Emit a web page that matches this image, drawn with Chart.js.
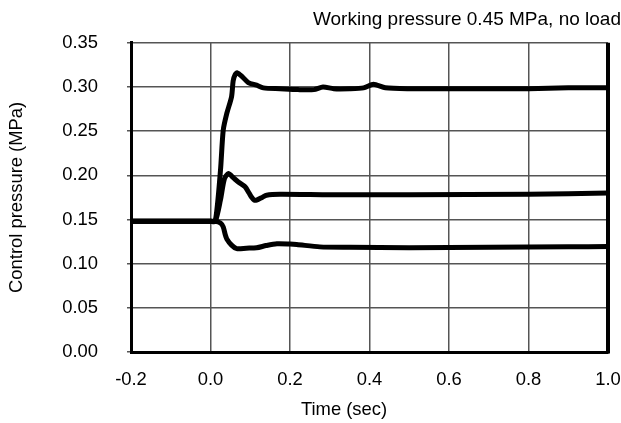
<!DOCTYPE html>
<html>
<head>
<meta charset="utf-8">
<script src="https://cdn.jsdelivr.net/npm/chart.js@4"></script>
<style>
  html, body { margin: 0; padding: 0; background: #fff; }
  #wrap { width: 621px; height: 423px; }
</style>
</head>
<body>
<div id="wrap"><canvas id="chart" width="621" height="423"></canvas></div>
<script>
// --- Chart data ---
const xTicks = [-0.2, 0.0, 0.2, 0.4, 0.6, 0.8, 1.0];
const yTicks = [0.00, 0.05, 0.10, 0.15, 0.20, 0.25, 0.30, 0.35];

const highTime = [-0.2, 0.0, 0.012, 0.025, 0.032, 0.041, 0.053, 0.057, 0.062, 0.0675, 0.079, 0.095, 0.116, 0.133, 0.175, 0.22, 0.26, 0.283, 0.31, 0.35, 0.385, 0.41, 0.44, 0.5, 0.6, 0.7, 0.8, 0.9, 1.0];
const highPressure = [0.148, 0.148, 0.148, 0.205, 0.251, 0.270, 0.289, 0.307, 0.314, 0.316, 0.312, 0.305, 0.302, 0.299, 0.298, 0.297, 0.297, 0.300, 0.298, 0.298, 0.299, 0.303, 0.299, 0.298, 0.298, 0.298, 0.298, 0.299, 0.299];

const midTime = [-0.2, 0.0, 0.012, 0.025, 0.035, 0.045, 0.058, 0.070, 0.087, 0.097, 0.103, 0.110, 0.116, 0.130, 0.141, 0.175, 0.3, 0.5, 0.8, 1.0];
const midPressure = [0.148, 0.148, 0.148, 0.172, 0.196, 0.202, 0.197, 0.1925, 0.187, 0.180, 0.1755, 0.172, 0.172, 0.175, 0.1775, 0.1785, 0.178, 0.178, 0.1785, 0.180];

const lowTime = [-0.2, 0.0, 0.012, 0.025, 0.032, 0.037, 0.041, 0.053, 0.066, 0.09, 0.116, 0.14, 0.167, 0.2, 0.217, 0.275, 0.35, 0.5, 0.7, 0.9, 1.0];
const lowPressure = [0.148, 0.148, 0.148, 0.146, 0.1416, 0.133, 0.128, 0.121, 0.117, 0.1175, 0.118, 0.1205, 0.1225, 0.1222, 0.1217, 0.119, 0.1185, 0.118, 0.1185, 0.119, 0.1195];

const toPoints = (xs, ys) => xs.map((x, i) => ({ x: x, y: ys[i] }));

const fontFamily = 'Arial, "Liberation Sans", sans-serif';
const fontSize = 18.4;

// right frame line + x axis title
const framePlugin = {
    id: 'frame',
    afterDraw(chart) {
        const { ctx, chartArea } = chart;
        ctx.save();
        ctx.strokeStyle = '#000';
        ctx.lineWidth = 4;
        ctx.beginPath();
        ctx.moveTo(chartArea.right, chartArea.top);
        ctx.lineTo(chartArea.right, chartArea.bottom + 1.5);
        ctx.stroke();

        ctx.fillStyle = '#000';
        ctx.font = fontSize + 'px ' + fontFamily;
        ctx.textAlign = 'center';
        ctx.textBaseline = 'middle';
        ctx.fillText('Time (sec)', 344, 410);
        ctx.restore();
    }
};

const lineSet = (label, xs, ys) => ({
    label: label,
    data: toPoints(xs, ys),
    borderColor: '#000',
    borderWidth: 5,
    pointRadius: 0,
    fill: false,
    tension: 0.25,
    borderJoinStyle: 'round',
    borderCapStyle: 'round'
});

new Chart(document.getElementById('chart').getContext('2d'), {
    type: 'line',
    data: {
        datasets: [
            lineSet('high', highTime, highPressure),
            lineSet('mid', midTime, midPressure),
            lineSet('low', lowTime, lowPressure)
        ]
    },
    options: {
        responsive: false,
        animation: false,
        layout: { padding: { left: 0, right: 0, top: 0, bottom: 0 } },
        plugins: {
            legend: { display: false },
            tooltip: { enabled: false },
            title: {
                display: true,
                text: 'Working pressure 0.45 MPa, no load',
                align: 'end',
                color: '#000',
                font: { family: fontFamily, size: 19, weight: 'normal' },
                padding: { top: 8, bottom: 12 }
            }
        },
        scales: {
            x: {
                type: 'linear',
                min: xTicks[0],
                max: xTicks[xTicks.length - 1],
                afterBuildTicks: (scale) => { scale.ticks = xTicks.map(v => ({ value: v })); },
                afterFit: (scale) => {
                    scale.height = 71;
                    scale.paddingLeft = 0;
                    scale.paddingRight = 13;
                },
                ticks: {
                    color: '#000',
                    padding: 17,
                    maxRotation: 0,
                    font: { family: fontFamily, size: fontSize },
                    callback: (v) => Number(v).toFixed(1)
                },
                grid: { color: '#555', lineWidth: 1.5, drawTicks: false },
                border: { color: '#000', width: 3 }
            },
            y: {
                min: yTicks[0],
                max: yTicks[yTicks.length - 1],
                afterBuildTicks: (scale) => { scale.ticks = yTicks.map(v => ({ value: v })); },
                afterFit: (scale) => { scale.width = 131; },
                ticks: {
                    color: '#000',
                    padding: 29,
                    font: { family: fontFamily, size: fontSize },
                    callback: (v) => Number(v).toFixed(2)
                },
                grid: { color: '#555', lineWidth: 1.5, tickLength: 4 },
                border: { color: '#000', width: 3 },
                title: {
                    display: true,
                    text: 'Control pressure (MPa)',
                    color: '#000',
                    font: { family: fontFamily, size: fontSize },
                    padding: { top: 6, bottom: 0 }
                }
            }
        }
    },
    plugins: [framePlugin]
});
</script>
</body>
</html>
